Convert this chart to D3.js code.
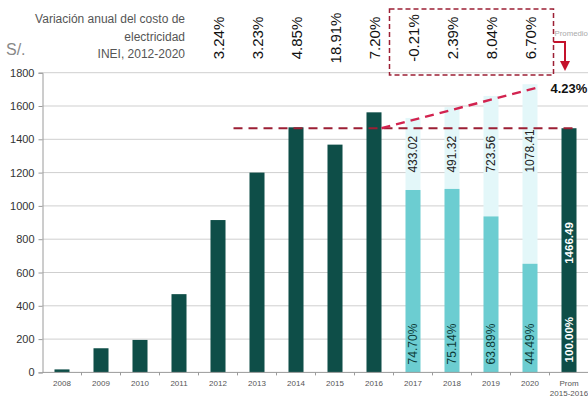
<!DOCTYPE html>
<html>
<head>
<meta charset="utf-8">
<script src="https://cdn.jsdelivr.net/npm/d3@7"></script>
<style>
  html, body { margin: 0; padding: 0; background: #fff; }
  svg { display: block; font-family: "Liberation Sans", Arial, sans-serif; }
</style>
</head>
<body>
<svg id="chart" width="588" height="398"></svg>
<script>
// Years shown on the axis plus the 2015-2016 average column
const categories = ['2008', '2009', '2010', '2011', '2012', '2013', '2014', '2015', '2016', '2017', '2018', '2019', '2020', 'Prom'];
const categoryLines = { 'Prom': ['Prom', '2015-2016'] };

// Historical cost (S/.) 2008-2016
const histYears = ['2008', '2009', '2010', '2011', '2012', '2013', '2014', '2015', '2016'];
const histValues = [18, 145, 195, 470, 915, 1200, 1472, 1368, 1562];

// 2015-2016 average
const promValue = 1466.49;
const promShareLabel = '100.00%';

// 2017-2020: share of the average and remaining gap
const projYears = ['2017', '2018', '2019', '2020'];
const projShare = [74.70, 75.14, 63.89, 44.49];
const projGap = [433.02, 491.32, 723.56, 1078.41];

// Annual variation of electricity cost (INEI)
const varYears = ['2012', '2013', '2014', '2015', '2016', '2017', '2018', '2019', '2020'];
const varLabels = ['3.24%', '3.23%', '4.85%', '18.91%', '7.20%', '-0.21%', '2.39%', '8.04%', '6.70%'];
const avgVarLabel = '4.23%';

const yTicks = [0, 200, 400, 600, 800, 1000, 1200, 1400, 1600, 1800];

const C = {
  dark: '#0e4e48',
  light: '#6ccdd1',
  faint: '#e3f7f9',
  grid: '#cfcfcf',
  axis: '#9a9a9a',
  text: '#333',
  red: '#d2234f',
  boxRed: '#9c1f34',
  arrow: '#c4122c'
};

const svg = d3.select('#chart');

const x = d3.scaleBand().domain(categories).range([42.5, 588.5])
  .paddingInner(0.615).paddingOuter(0.3075);
const y = d3.scaleLinear().domain([0, 1800]).range([372.4, 72.7]);
const bw = x.bandwidth();
const cx = c => x(c) + bw / 2;

// Horizontal gridlines
svg.append('g').selectAll('line').data(yTicks.filter(d => d > 0)).join('line')
  .attr('x1', 42.5).attr('x2', 588)
  .attr('y1', d => y(d)).attr('y2', d => y(d))
  .attr('stroke', C.grid).attr('stroke-width', 1);

// Y axis
const yAxis = svg.append('g').attr('transform', 'translate(42.5,0)')
  .call(d3.axisLeft(y).tickValues(yTicks).tickFormat(d3.format('d')).tickSize(4).tickPadding(4));
yAxis.select('.domain').attr('stroke', C.axis);
yAxis.selectAll('.tick line').attr('stroke', C.axis);
yAxis.selectAll('.tick text').attr('fill', C.text).style('font-size', '11px')
  .style('font-family', '"Liberation Sans", Arial, sans-serif');

// Faint gap columns above 2017-2020 bars
const proj = projYears.map((yr, i) => ({
  yr, share: projShare[i], gap: projGap[i], base: projShare[i] / 100 * promValue
}));
svg.append('g').selectAll('rect').data(proj).join('rect')
  .attr('x', d => x(d.yr)).attr('width', bw)
  .attr('y', d => y(d.base + d.gap))
  .attr('height', d => y(d.base) - y(d.base + d.gap))
  .attr('fill', C.faint);

// Historical bars
svg.append('g').selectAll('rect').data(histYears.map((yr, i) => ({ yr, v: histValues[i] }))).join('rect')
  .attr('x', d => x(d.yr)).attr('width', bw)
  .attr('y', d => y(d.v)).attr('height', d => y(0) - y(d.v))
  .attr('fill', C.dark);

// 2017-2020 bars (share of the average)
svg.append('g').selectAll('rect').data(proj).join('rect')
  .attr('x', d => x(d.yr)).attr('width', bw)
  .attr('y', d => y(d.base)).attr('height', d => y(0) - y(d.base))
  .attr('fill', C.light);

// Average column
svg.append('rect').attr('x', x('Prom')).attr('width', bw)
  .attr('y', y(promValue)).attr('height', y(0) - y(promValue))
  .attr('fill', C.dark);

// X axis line and ticks at category boundaries
svg.append('line').attr('x1', 42.5).attr('x2', 588).attr('y1', y(0)).attr('y2', y(0))
  .attr('stroke', C.axis);
svg.append('g').selectAll('line').data(categories.slice(1)).join('line')
  .attr('x1', d => x(d) - x.step() * x.paddingInner() / 2)
  .attr('x2', d => x(d) - x.step() * x.paddingInner() / 2)
  .attr('y1', y(0)).attr('y2', y(0) + 3)
  .attr('stroke', C.axis);

// X labels
const xl = svg.append('g').selectAll('text').data(categories).join('text')
  .attr('x', d => cx(d)).attr('y', 386)
  .attr('text-anchor', 'middle').attr('fill', '#555').style('font-size', '8px');
xl.each(function (d) {
  const lines = categoryLines[d] || [d];
  d3.select(this).selectAll('tspan').data(lines).join('tspan')
    .attr('x', cx(d)).attr('dy', (l, i) => i === 0 ? 0 : 10).text(l => l);
});

// Rotated value labels on 2017-2020
svg.append('g').selectAll('text').data(proj).join('text')
  .attr('transform', d => `translate(${cx(d.yr) + 4},${y(1200)}) rotate(-90)`)
  .attr('fill', '#222').style('font-size', '12px')
  .text(d => d.gap.toFixed(2));
svg.append('g').selectAll('text').data(proj).join('text')
  .attr('transform', d => `translate(${cx(d.yr) + 4},${y(0) - 8}) rotate(-90)`)
  .attr('fill', '#0d3b38').style('font-size', '12px')
  .text(d => d.share.toFixed(2) + '%');

// Labels inside the average column
svg.append('text')
  .attr('transform', `translate(${cx('Prom') + 4},${y(promValue * 0.53)}) rotate(-90)`)
  .attr('text-anchor', 'middle').attr('fill', '#fff')
  .style('font-size', '11.5px').style('font-weight', 'bold')
  .text(promValue.toFixed(2));
svg.append('text')
  .attr('transform', `translate(${cx('Prom') + 4},${y(0) - 10}) rotate(-90)`)
  .attr('fill', '#fff').style('font-size', '11.5px').style('font-weight', 'bold')
  .text(promShareLabel);

// Dashed reference line at the average level
svg.append('line')
  .attr('x1', x('2012') + bw + 8).attr('x2', x('Prom') + bw)
  .attr('y1', y(promValue)).attr('y2', y(promValue))
  .attr('stroke', C.boxRed).attr('stroke-width', 1.8).attr('stroke-dasharray', '9,6');

// Dashed rising line towards the average variation
svg.append('line')
  .attr('x1', x('2016') + bw).attr('y1', y(promValue))
  .attr('x2', x('2020') + bw + 2).attr('y2', 87)
  .attr('stroke', C.red).attr('stroke-width', 2.4).attr('stroke-dasharray', '9,6');

// Annual variation labels
svg.append('g').selectAll('text').data(varYears.map((yr, i) => ({ yr, t: varLabels[i] }))).join('text')
  .attr('transform', d => `translate(${cx(d.yr)},38) rotate(-90)`)
  .attr('text-anchor', 'middle').attr('dominant-baseline', 'central')
  .attr('fill', '#111').style('font-size', '15px')
  .text(d => d.t);

// Box around 2017-2020 variations
const boxL = x('2017') - 16, boxR = x('2020') + bw + 16;
svg.append('rect').attr('x', boxL).attr('y', 9).attr('width', boxR - boxL).attr('height', 66)
  .attr('fill', 'none').attr('stroke', C.boxRed).attr('stroke-width', 1.5)
  .attr('stroke-dasharray', '5,3');

// Arrow to the average variation
const ax = cx('Prom') - 4;
svg.append('path')
  .attr('d', `M${boxR},42 H${ax} V62`)
  .attr('fill', 'none').attr('stroke', C.arrow).attr('stroke-width', 2);
svg.append('path')
  .attr('d', `M${ax - 5},61 L${ax + 5},61 L${ax},71 Z`)
  .attr('fill', C.arrow);

svg.append('text').attr('x', boxR + 1).attr('y', 36)
  .attr('fill', '#aaa').style('font-size', '7.8px').text('Promedio');

svg.append('text').attr('x', boxR - 3).attr('y', 93)
  .attr('fill', '#111').style('font-size', '13px').style('font-weight', 'bold')
  .text(avgVarLabel);

// Title block and unit
const title = ['Variación anual del costo de', 'electricidad', 'INEI, 2012-2020'];
svg.append('g').selectAll('text').data(title).join('text')
  .attr('x', 185).attr('y', (d, i) => 23 + i * 17.5)
  .attr('text-anchor', 'end').attr('fill', '#555').style('font-size', '12px')
  .text(d => d);

svg.append('text').attr('x', 6).attr('y', 55)
  .attr('fill', '#888').style('font-size', '16px').text('S/.');
</script>
</body>
</html>
